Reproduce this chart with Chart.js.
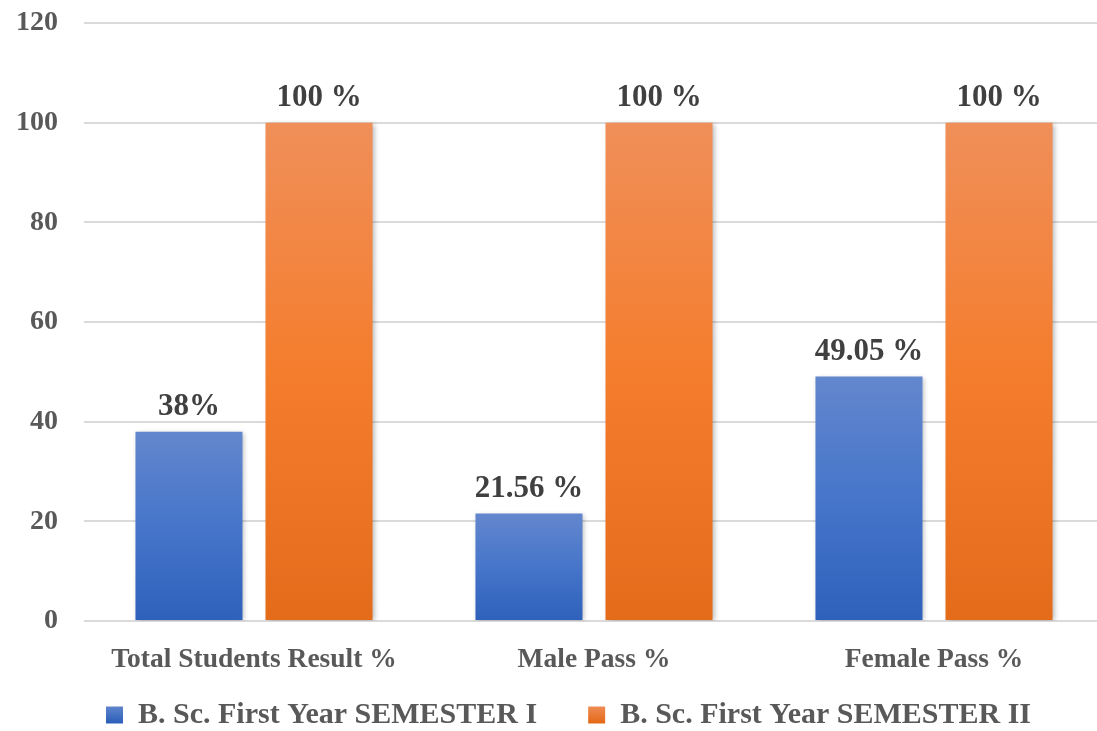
<!DOCTYPE html>
<html>
<head>
<meta charset="utf-8">
<script src="https://cdn.jsdelivr.net/npm/chart.js@4.4.1/dist/chart.umd.min.js"></script>
<style>
  html, body { margin: 0; padding: 0; background: #ffffff; overflow: hidden; }
  #wrap { width: 1104px; height: 731px; }
</style>
</head>
<body>
<div id="wrap"><canvas id="c" width="1104" height="731"></canvas></div>
<script>
const categories = ['Total Students Result %', 'Male Pass %', 'Female Pass %'];
const seriesNames = ['B. Sc. First Year SEMESTER I', 'B. Sc. First Year SEMESTER II'];
const semester1 = [38, 21.56, 49.05];
const semester2 = [100, 100, 100];
const semester1Labels = ['38%', '21.56 %', '49.05 %'];
const semester2Labels = ['100 %', '100 %', '100 %'];
const yTicks = [0, 20, 40, 60, 80, 100, 120];

const FONT = "'Liberation Serif', 'DejaVu Serif', serif";
const blueStops = ['#6387cd', '#4675ca', '#2e61bb'];
const orangeStops = ['#f08f59', '#f47d2d', '#e46b1a'];

function barGradient(stops) {
  return function (ctx) {
    const chart = ctx.chart;
    if (ctx.type !== 'data' || !chart.chartArea) return stops[1];
    const yScale = chart.scales.y;
    const top = yScale.getPixelForValue(ctx.raw);
    const bottom = yScale.getPixelForValue(0);
    const g = chart.ctx.createLinearGradient(0, top, 0, bottom);
    g.addColorStop(0, stops[0]);
    g.addColorStop(0.5, stops[1]);
    g.addColorStop(1, stops[2]);
    return g;
  };
}

const shadowPlugin = {
  id: 'barShadow',
  beforeDatasetDraw(chart) {
    const c = chart.ctx;
    c.save();
    c.shadowColor = 'rgba(0,0,0,0.28)';
    c.shadowBlur = 5;
    c.shadowOffsetX = 2;
    c.shadowOffsetY = 1;
  },
  afterDatasetDraw(chart) {
    chart.ctx.restore();
  }
};

const valueLabelPlugin = {
  id: 'valueLabels',
  afterDatasetsDraw(chart) {
    const c = chart.ctx;
    const texts = [semester1Labels, semester2Labels];
    c.save();
    c.font = "bold 31px " + FONT;
    c.fillStyle = '#404040';
    c.textAlign = 'center';
    c.textBaseline = 'alphabetic';
    chart.data.datasets.forEach((ds, i) => {
      const meta = chart.getDatasetMeta(i);
      meta.data.forEach((bar, j) => {
        c.fillText(texts[i][j], bar.x, bar.y - 17);
      });
    });
    c.restore();
  }
};

const legendShift = {
  id: 'legendShift',
  afterLayout(chart) {
    const L = chart.legend;
    const h = L.height;
    L.left += 16.5; L.right += 16.5;
    L.top = 694; L.bottom = 694 + h;
  }
};

const chart = new Chart(document.getElementById('c'), {
  type: 'bar',
  data: {
    labels: categories,
    datasets: [
      { label: seriesNames[0], data: semester1, backgroundColor: barGradient(blueStops), borderWidth: 0 },
      { label: seriesNames[1], data: semester2, backgroundColor: barGradient(orangeStops), borderWidth: 0 }
    ]
  },
  options: {
    responsive: false,
    animation: false,
    devicePixelRatio: 1,
    layout: { padding: { top: 23, right: 0, bottom: 0, left: 0 } },
    datasets: { bar: { categoryPercentage: 0.765, barPercentage: 0.823 } },
    scales: {
      x: {
        grid: { display: false },
        border: { display: false },
        ticks: { color: '#595959', font: { family: FONT, size: 27.5, weight: 'bold' }, padding: 14, maxRotation: 0 },
        afterFit(scale) { scale.height = 64; }
      },
      y: {
        min: 0, max: 120,
        afterBuildTicks(scale) { scale.ticks = yTicks.map(v => ({ value: v })); },
        grid: { color: '#dadada', lineWidth: 2, drawTicks: false, tickLength: 0 },
        border: { display: false },
        ticks: { color: '#595959', font: { family: FONT, size: 28, weight: 'bold' }, padding: 26 },
        afterFit(scale) { scale.width = 84; scale.paddingTop = 0; scale.paddingBottom = 0; }
      }
    },
    plugins: {
      legend: {
        position: 'bottom',
        labels: {
          boxWidth: 17, boxHeight: 17, padding: 6,
          color: '#595959',
          font: { family: FONT, size: 30, weight: 'bold' },
          generateLabels(ch) {
            const grads = [blueStops, orangeStops];
            return ch.data.datasets.map((ds, i) => {
              const g = ch.ctx.createLinearGradient(0, 705, 0, 722);
              g.addColorStop(0, grads[i][0]);
              g.addColorStop(1, grads[i][2]);
              return {
                text: ds.label + (i < ch.data.datasets.length - 1 ? '      ' : ''),
                fillStyle: g,
                strokeStyle: 'rgba(0,0,0,0)',
                lineWidth: 0,
                hidden: false,
                datasetIndex: i,
                fontColor: '#595959'
              };
            });
          }
        }
      },
      tooltip: { enabled: false }
    }
  },
  plugins: [shadowPlugin, valueLabelPlugin, legendShift]
});
</script>
</body>
</html>
